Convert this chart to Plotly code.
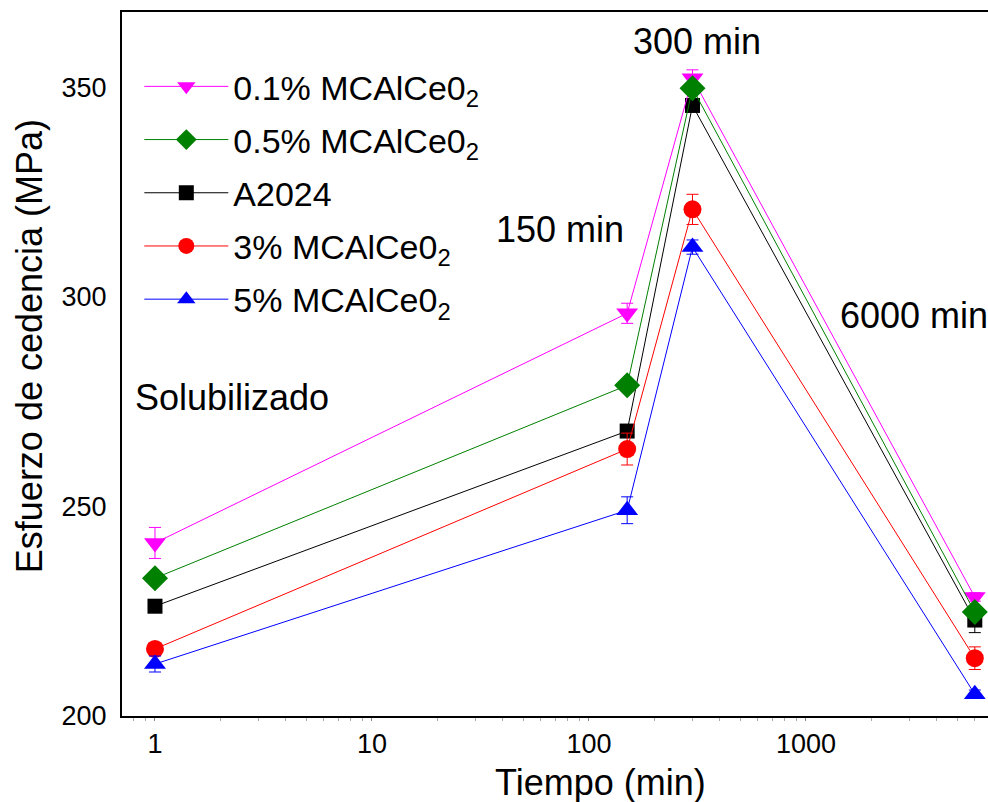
import math
import plotly.graph_objects as go

# Aging time (min) and yield strength (MPa) for each alloy
tiempo = [1, 150, 300, 6000]

series_names = ["0.1% MCAlCe0<sub>2</sub>", "0.5% MCAlCe0<sub>2</sub>", "A2024",
                "3% MCAlCe0<sub>2</sub>", "5% MCAlCe0<sub>2</sub>"]

y_01 = [241.3, 296.1, 352.2, 228.4]
e_01 = [3.7, 2.4, 2.0, 1.0]

y_05 = [232.9, 278.9, 349.8, 224.8]
e_05 = [0.8, 0.8, 0.8, 0.8]

y_a2024 = [226.2, 268.0, 345.7, 222.9]
e_a2024 = [1.5, 1.0, 1.0, 3.0]

y_3 = [216.0, 263.7, 320.9, 213.8]
e_3 = [1.0, 3.8, 3.6, 2.7]

y_5 = [212.4, 249.1, 311.9, 205.2]
e_5 = [1.9, 3.2, 1.7, 1.0]

# Heat-treatment stage labels (x in minutes, y in MPa)
stage_labels = ["Solubilizado", "150 min", "300 min", "6000 min"]
stage_x = [2.26, 73.5, 315, 1404]
stage_y = [276.1, 316.1, 361.0, 295.6]
stage_anchor = ["center", "center", "center", "left"]

FONT = "Liberation Sans, Arial, sans-serif"

# (name, y, err, color, symbol, legend rank, marker size) in drawing order
series = [
    (series_names[2], y_a2024, e_a2024, "#000000", "square", 3, 15),
    (series_names[3], y_3, e_3, "#FF0000", "circle", 4, 18),
    (series_names[4], y_5, e_5, "#0000FF", "triangle-up", 5, 19),
    (series_names[0], y_01, e_01, "#FF00FF", "triangle-down", 1, 19),
    (series_names[1], y_05, e_05, "#008000", "diamond", 2, 20),
]

fig = go.Figure()
for name, ys, es, color, symbol, rank, size in series:
    fig.add_trace(go.Scatter(
        x=tiempo, y=ys, name=name, mode="lines+markers",
        line=dict(color=color, width=1),
        marker=dict(symbol=symbol, size=size, color=color, line=dict(width=0)),
        error_y=dict(type="data", array=es, visible=True, color=color,
                     thickness=1, width=6),
        legendrank=rank, legendgroup=name,
    ))

# log axes take annotation positions as log10 values
for text, xv, yv, anc in zip(stage_labels, stage_x, stage_y, stage_anchor):
    fig.add_annotation(x=math.log10(xv), y=yv, xref="x", yref="y", text=text,
                       showarrow=False, xanchor=anc, yanchor="middle",
                       font=dict(family=FONT, size=36, color="black"))

# axis titles
fig.add_annotation(x=0.552, y=-0.095, xref="paper", yref="paper",
                   text="Tiempo (min)", showarrow=False,
                   xanchor="center", yanchor="middle",
                   font=dict(family=FONT, size=36, color="black"))
fig.add_annotation(x=-0.106, y=0.5256, xref="paper", yref="paper",
                   text="Esfuerzo de cedencia (MPa)", showarrow=False,
                   textangle=-90, xanchor="center", yanchor="middle",
                   font=dict(family=FONT, size=36, color="black"))

fig.update_layout(
    width=988, height=802,
    margin=dict(l=122, r=0, t=12, b=86),
    paper_bgcolor="white", plot_bgcolor="white",
    font=dict(family=FONT, color="black"),
    showlegend=True,
    legend=dict(x=0.020, y=0.935, xanchor="left", yanchor="top",
                bgcolor="rgba(0,0,0,0)", itemwidth=84,
                tracegroupgap=6,
                font=dict(family=FONT, size=34, color="black")),
    xaxis=dict(
        type="log", range=[-0.152, 3.839],
        tickvals=[1, 10, 100, 1000], ticktext=["1", "10", "100", "1000"],
        showline=True, linecolor="black", linewidth=2, mirror=True,
        showgrid=False, zeroline=False,
        ticks="outside", ticklen=3, tickcolor="#888888",
        minor=dict(ticks="outside", ticklen=3, tickcolor="#aaaaaa", dtick="D1"),
        tickfont=dict(family=FONT, size=27),
    ),
    yaxis=dict(
        range=[200, 368], tickvals=[200, 250, 300, 350],
        showline=True, linecolor="black", linewidth=2, mirror=False,
        showgrid=False, zeroline=False, ticks="", ticklabelstandoff=8,
        tickfont=dict(family=FONT, size=27),
    ),
)

fig.write_html("out.html")
